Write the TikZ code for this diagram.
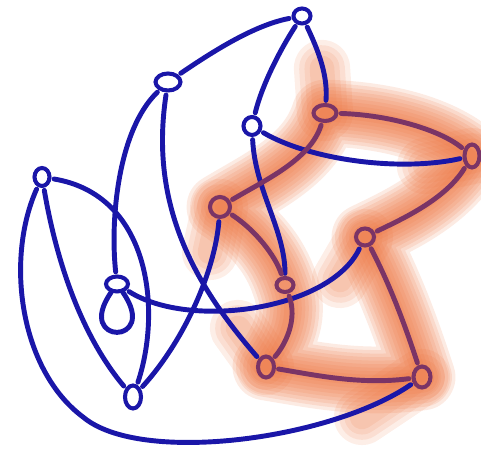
\documentclass[tikz,border=0pt]{standalone}
\usepackage{tikz}
\usetikzlibrary{shapes.geometric}
\definecolor{penblue}{RGB}{26,22,168}
\definecolor{penplum}{RGB}{122,52,102}
\definecolor{glow}{RGB}{236,112,58}
\pgfdeclarelayer{bg}
\pgfsetlayers{bg,main}

\begin{document}
\begin{tikzpicture}[
      x=0.02cm, y=-0.02cm,
      vtx/.style={
        draw=penblue, ellipse, line width=2.3pt, inner sep=0pt,
        minimum width=0.34cm, minimum height=0.3cm
      },
      hot/.style={vtx, draw=penplum},
      edge/.style={draw=penblue, line width=2.8pt, line cap=round,
        shorten <=1.5pt, shorten >=1.5pt},
      hotedge/.style={edge, draw=penplum},
      halo/.style={draw=glow, line cap=round, line join=round, opacity=0.14}
    ]
    \useasboundingbox (0,0) rectangle (481,455);
    \node[vtx] (a) at (302,16) {};
    \node[vtx, minimum width=0.5cm, minimum height=0.34cm] (b) at (168,82) {};
    \node[vtx, minimum height=0.36cm] (c) at (252,126) {};
    \node[hot, minimum width=0.46cm, minimum height=0.32cm] (d) at (325,113) {};
    \node[hot, minimum width=0.3cm, minimum height=0.46cm] (e) at (472,156) {};
    \node[vtx, minimum width=0.3cm, minimum height=0.36cm] (f) at (42,177) {};
    \node[hot, minimum width=0.4cm, minimum height=0.4cm] (g) at (220,207) {};
    \node[hot, minimum width=0.36cm, minimum height=0.34cm] (h) at (365,237) {};
    \node[vtx, minimum width=0.44cm, minimum height=0.3cm] (i) at (117,284) {};
    \node[hot, minimum width=0.34cm, minimum height=0.28cm] (j) at (285,285) {};
    \node[hot, minimum width=0.32cm, minimum height=0.42cm] (k) at (266,367) {};
    \node[hot, minimum width=0.34cm, minimum height=0.42cm] (l) at (422,377) {};
    \node[vtx, minimum width=0.32cm, minimum height=0.46cm] (m) at (133,397) {};
    \begin{pgfonlayer}{bg}
      \foreach \w in {38,34,30,26,22,18,14,10,6}
        \draw[halo, line width=\w pt] (d.center) .. controls (390,115) and (440,130) .. (e.center)
          .. controls (445,200) and (400,220) .. (h.center)
          .. controls (390,285) and (405,325) .. (l.center)
          .. controls (360,385) and (315,375) .. (k.center)
          .. controls (280,345) and (298,320) .. (j.center)
          .. controls (275,255) and (255,230) .. (g.center)
          .. controls (265,180) and (310,160) .. (d.center);
      \foreach \w in {32,26,20,14}
        \draw[halo, opacity=0.12, line width=\w pt]
          (d.center) -- (322,68)
          (e.center) -- (425,166)
          (h.center) -- (340,280)
          (l.center) -- (362,417)
          (g.center) -- (210,252)
          (k.center) -- (238,328);
    \end{pgfonlayer}
    \draw[edge] (b) .. controls (215,50) and (255,25) .. (a);
    \draw[edge] (a) .. controls (280,50) and (262,85) .. (c);
    \draw[edge] (a) .. controls (318,50) and (328,75) .. (d);
    \draw[edge] (b) .. controls (118,130) and (110,220) .. (i);
    \draw[edge] (b) .. controls (150,200) and (190,280) .. (k);
    \draw[edge] (c) .. controls (310,160) and (400,172) .. (e);
    \draw[edge] (c) .. controls (255,190) and (285,230) .. (j);
    \draw[hotedge] (d) .. controls (390,115) and (440,130) .. (e);
    \draw[hotedge] (d) .. controls (310,160) and (265,180) .. (g);
    \draw[hotedge] (e) .. controls (445,200) and (400,220) .. (h);
    \draw[edge] (f) .. controls (58,270) and (85,340) .. (m);
    \draw[edge] (f) .. controls (150,195) and (162,310) .. (m);
    \draw[edge] (f) .. controls (5,260) and (20,370) .. (83,417)
        .. controls (140,465) and (330,440) .. (l);
    \draw[edge] (g) .. controls (215,270) and (185,340) .. (m);
    \draw[hotedge] (g) .. controls (255,230) and (275,255) .. (j);
    \draw[edge] (i) .. controls (190,330) and (330,310) .. (h);
    \draw[hotedge] (j) .. controls (298,320) and (285,345) .. (k);
    \draw[hotedge] (k) .. controls (315,375) and (360,385) .. (l);
    \draw[hotedge] (h) .. controls (390,285) and (405,325) .. (l);
    \draw[edge, shorten <=0pt, shorten >=0pt] (i) to[out=235, in=305, min distance=1.3cm] (i);
  \end{tikzpicture}
\end{document}
